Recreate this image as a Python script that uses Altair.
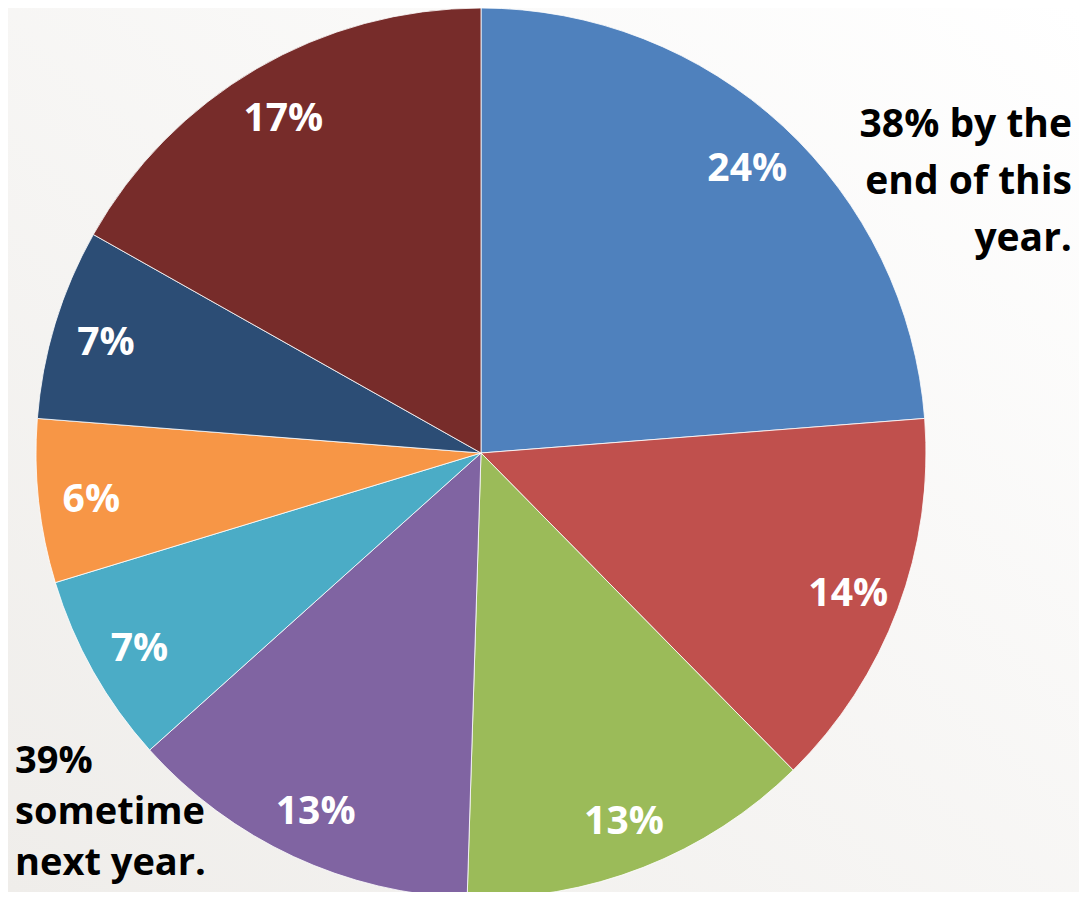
import altair as alt
import pandas as pd

labels = ["24%", "14%", "13%", "13%", "7%", "6%", "7%", "17%"]
values = [24, 14, 13, 13, 7, 6, 7, 17]
colors = ["#4F81BD", "#C0504D", "#9BBB59", "#8064A2", "#4BACC6", "#F79646", "#2C4D75", "#772C2A"]
note_top = ["38% by the", "end of this", "year."]
note_bottom = ["39%", "sometime", "next year."]

W, H = 1071, 884
CX, CY, R = 473, 445, 445

df = pd.DataFrame({"idx": list(range(len(values))), "value": values, "label": labels})

bg = alt.Chart(alt.Data(values=[{}])).mark_rect(
    color={"gradient": "linear", "x1": 1, "y1": 0, "x2": 0, "y2": 1,
           "stops": [{"offset": 0, "color": "#ffffff"}, {"offset": 1, "color": "#efedea"}]}
).encode(x=alt.value(0), x2=alt.value(W), y=alt.value(0), y2=alt.value(H))

base = alt.Chart(df).encode(
    theta=alt.Theta("value:Q", stack=True),
    order=alt.Order("idx:Q"),
)

arcs = base.mark_arc(outerRadius=R, stroke="#ffffff", strokeWidth=0.8).encode(
    color=alt.Color("idx:N", scale=alt.Scale(domain=list(range(len(values))), range=colors), legend=None),
    x=alt.value(CX), y=alt.value(CY),
)

txt = base.mark_text(radius=392, font="Open Sans", fontWeight="bold", fontSize=39,
                     color="white", align="center", baseline="middle", dy=4).encode(
    text="label:N", x=alt.value(CX), y=alt.value(CY),
)

top_note = alt.Chart(alt.Data(values=[{}])).mark_text(
    font="Open Sans", fontWeight="bold", fontSize=39, color="black",
    align="right", baseline="middle", lineHeight=57,
).encode(text=alt.value(note_top), x=alt.value(1064), y=alt.value(117))

bot_note = alt.Chart(alt.Data(values=[{}])).mark_text(
    font="Open Sans", fontWeight="bold", fontSize=38, color="black",
    align="left", baseline="middle", lineHeight=51,
).encode(text=alt.value(note_bottom), x=alt.value(7), y=alt.value(754))

chart = alt.layer(bg, arcs, txt, top_note, bot_note).properties(
    width=W, height=H, padding=0, autosize=alt.AutoSizeParams(type="none")
).configure_view(stroke=None)

chart.save("out.html", embed_options={"renderer": "svg", "actions": False})
